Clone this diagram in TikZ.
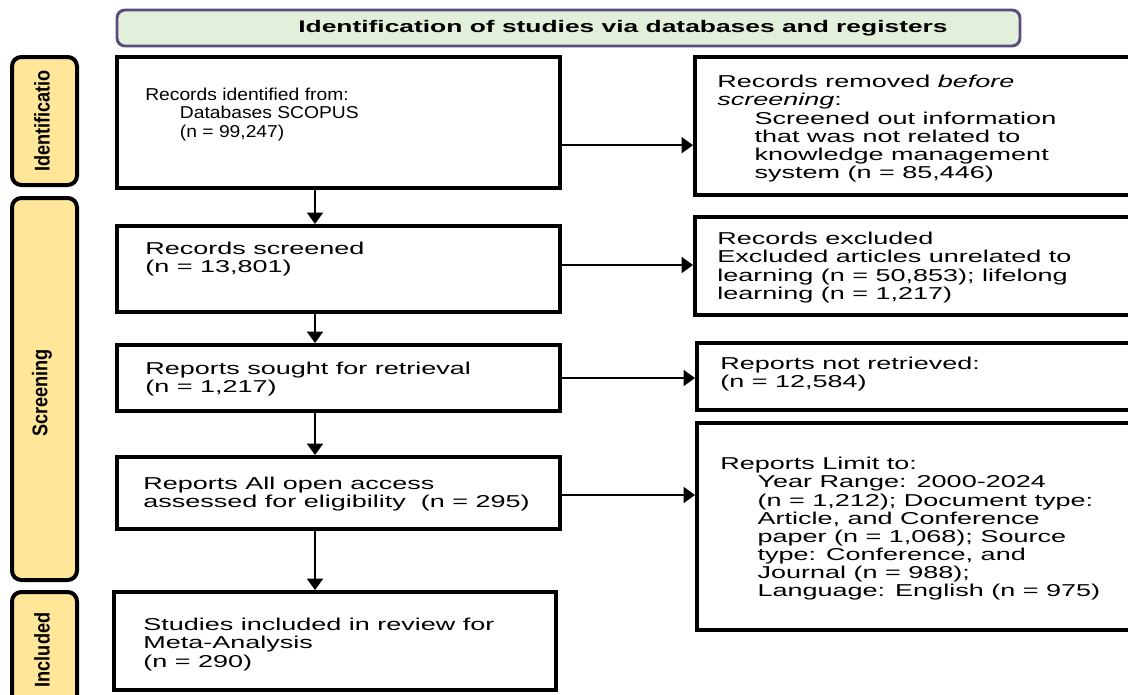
\documentclass[tikz,border=0pt]{standalone}
\usepackage{fontspec}
\setmainfont{Liberation Sans}[FakeStretch=1.57]
\newfontfamily\narrowfont{Liberation Sans}[FakeStretch=1.12]
\newfontfamily\sidefont{Liberation Sans}[FakeStretch=0.85]
\usetikzlibrary{arrows.meta,positioning,fit}
\definecolor{headfill}{HTML}{E2EFDA}
\definecolor{headline}{HTML}{5B4C7E}
\definecolor{barfill}{HTML}{FFE699}
\newcommand{\ind}{\hspace*{28pt}}
\tikzset{
  head/.style={draw=headline, line width=2.2pt, fill=headfill, rounded corners=6pt, inner sep=0pt},
  headtxt/.style={inner sep=0pt, font=\bfseries\fontsize{12.6}{14}\selectfont},
  stage/.style={draw=black, line width=3pt, fill=barfill, rounded corners=7pt, inner sep=0pt},
  stagetxt/.style={rotate=90, inner sep=0pt, font=\sidefont\bfseries\fontsize{16}{18}\selectfont},
  box/.style={draw=black, line width=3pt, inner sep=0pt},
  txt/.style={anchor=north west, align=left, inner sep=0pt, font=\fontsize{12.9}{13.6}\selectfont},
  flow/.style={-{Triangle[width=12pt,length=8.5pt]}, line width=1.1pt}
}
\begin{document}
\begin{tikzpicture}[x=0.75pt,y=-0.75pt]
\useasboundingbox (0,0) rectangle (1128,694);
\clip (0,0) rectangle (1128,694);

\node[head, fit={(117,10) (1020,46)}] (header) {};
\node[headtxt] (headlabel) at (623,28) {Identification of studies via databases and registers};

\node[stage, fit={(12,57) (77,185)}] (idbar) {};
\node[stage, fit={(12,198) (77,580)}] (scrbar) {};
\node[stage, fit={(12,592) (77,720)}] (incbar) {};
\node[stagetxt] (idlabel) at (42,121) {Identificatio};
\node[stagetxt] (scrlabel) at (42,393) {Screening};
\node[stagetxt] (inclabel) at (42,650) {Included};

\node[box, fit={(117,57) (560,188)}] (ident) {};
\node[box, fit={(117,226) (560,312)}] (screened) {};
\node[box, fit={(117,345) (560,411)}] (sought) {};
\node[box, fit={(117,457) (560,529)}] (eligible) {};
\node[box, fit={(114,592) (556,690)}] (included) {};

\node[box, fit={(695,57) (1140,195)}] (removed) {};
\node[box, fit={(695,217) (1140,315)}] (excluded) {};
\node[box, fit={(697,343) (1140,410)}] (notretr) {};
\node[box, fit={(697,423) (1140,630)}] (limits) {};

\node[txt, font=\narrowfont\fontsize{12.9}{13.6}\selectfont] (identtxt) at (145,88) {Records identified from:\\\hspace*{26pt}Databases SCOPUS\\\hspace*{26pt}(n = 99,247)};
\node[txt] (screenedtxt) at (145,242) {Records screened\\(n = 13,801)};
\node[txt] (soughttxt) at (145,362) {Reports sought for retrieval\\(n = 1,217)};
\node[txt] (eligibletxt) at (143,477) {Reports All open access\\assessed for eligibility\ \ (n = 295)};
\node[txt] (includedtxt) at (143,618) {Studies included in review for\\Meta-Analysis\\(n = 290)};

\node[txt] (removedtxt) at (717,75) {Records removed \textit{before}\\\textit{screening}:\\\ind Screened out information\\\ind that was not related to\\\ind knowledge management\\\ind system (n = 85,446)};
\node[txt] (excludedtxt) at (717,232) {Records excluded\\Excluded articles unrelated to\\learning (n = 50,853); lifelong\\learning (n = 1,217)};
\node[txt] (notretrtxt) at (720,357) {Reports not retrieved:\\(n = 12,584)};
\node[txt] (limitstxt) at (720,457) {Reports Limit to:\\\ind Year Range: 2000-2024\\\ind (n = 1,212); Document type:\\\ind Article, and Conference\\\ind paper (n = 1,068); Source\\\ind type: Conference, and\\\ind Journal (n = 988);\\\ind Language: English (n = 975)};

\coordinate (spine) at (315,0);
\draw[flow] (ident.south -| spine) -- (screened.north -| spine);
\draw[flow] (screened.south -| spine) -- (sought.north -| spine);
\draw[flow] (sought.south -| spine) -- (eligible.north -| spine);
\draw[flow] (eligible.south -| spine) -- (included.north -| spine);

\draw[flow] ([yshift=-17pt]ident.east) -- ([yshift=-17pt]ident.east -| removed.west);
\draw[flow] ([yshift=3pt]screened.east) -- ([yshift=3pt]screened.east -| excluded.west);
\draw[flow] (sought.east) -- (sought.east -| notretr.west);
\draw[flow] ([yshift=-1.5pt]eligible.east) -- ([yshift=-1.5pt]eligible.east -| limits.west);
\end{tikzpicture}
\end{document}
